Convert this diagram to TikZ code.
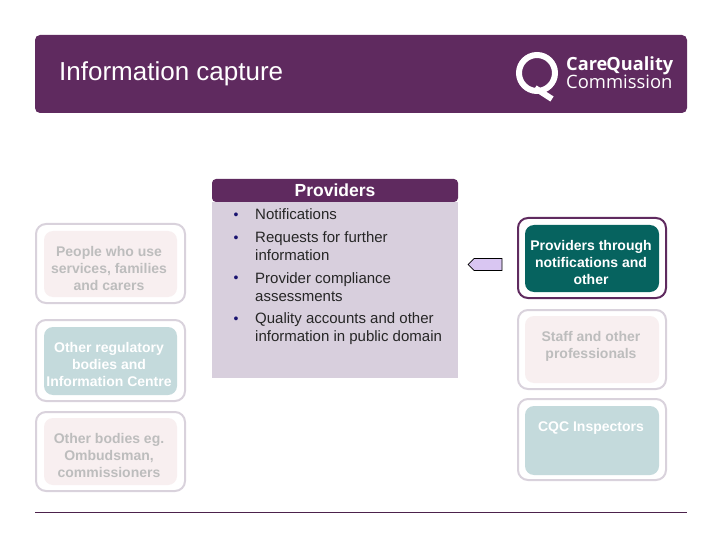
\documentclass[tikz,border=0pt]{standalone}
\usepackage{fontspec}
\setmainfont{Liberation Sans}
\newfontfamily\logofont{Open Sans}
\definecolor{plum}{HTML}{5F2A5F}
\definecolor{lilac}{HTML}{D8CFDD}
\definecolor{ringgrey}{HTML}{D9D2DC}
\definecolor{pinkfill}{HTML}{F8EFF0}
\definecolor{tealpale}{HTML}{C4DADC}
\definecolor{tealdark}{HTML}{06635F}
\definecolor{greytext}{HTML}{BDBDBD}
\definecolor{arrowfill}{HTML}{D9C6F2}
\definecolor{bulletblue}{HTML}{1A1470}
\tikzset{
  x=1pt,y=-1pt,
  outerbox/.style={draw=ringgrey,line width=2pt,rounded corners=10pt,fill=white},
  outeron/.style={draw=plum,line width=2pt,rounded corners=10pt,fill=white},
  innerbox/.style={rounded corners=9pt},
  boxlabel/.style={font=\bfseries\fontsize{14}{17}\selectfont,align=center,inner sep=0pt},
  listlabel/.style={font=\fontsize{15}{18}\selectfont,align=left,anchor=base west,inner sep=0pt,text=black!85},
  bulletmark/.style={font=\fontsize{14}{18}\selectfont,anchor=base,inner sep=0pt,text=bulletblue},
}
\begin{document}
\begin{tikzpicture}
\useasboundingbox (0,0) rectangle (720,540);
% banner
\fill[plum,rounded corners=5pt] (35,35) rectangle (687,113);
\node[anchor=base west,inner sep=0pt,text=white,font=\fontsize{26}{30}\selectfont] (title) at (59,81) {Information capture};
% logo
\draw[white,line width=6pt] (537,73) circle (18);
\draw[white,line width=6pt] (535,88) -- (552,99);
\node[anchor=base west,inner sep=0pt,text=white,font=\logofont\bfseries\fontsize{18.2}{20}\selectfont] (logoa) at (566,71) {Care\kern-1pt Quality};
\node[anchor=base west,inner sep=0pt,text=white,font=\logofont\fontsize{18.4}{20}\selectfont] (logob) at (566,89) {Commission};
% central panel
\fill[lilac] (212,202) rectangle (458,378);
\fill[plum,rounded corners=4pt] (212,202) -- (212,179) -- (458,179) -- (458,202) -- cycle;
\node[text=white,inner sep=0pt,font=\bfseries\fontsize{17.5}{20}\selectfont] (provhead) at (335,190.5) {Providers};
\foreach \yy in {219,242,282,323} \node[bulletmark] at (236,\yy) {•};
\node[listlabel] (l1) at (255,219) {Notifications};
\node[listlabel] (l2) at (255,260) {Requests for further\\[0pt]information};
\node[listlabel] (l3) at (255,301) {Provider compliance\\[0pt]assessments};
\node[listlabel] (l4) at (255,341) {Quality accounts and other\\[0pt]information in public domain};
% arrow
\draw[black,line width=.7pt,fill=arrowfill] (502,258.5) -- (474,258.5) -- (468,264.5) -- (474,270.5) -- (502,270.5) -- cycle;
% left boxes
\draw[outerbox] (36,224) rectangle (185,303);
\fill[pinkfill,innerbox] (44,231) rectangle (177,297);
\node[boxlabel,text=greytext] (people) at (109,268) {People who use\\services, families\\and carers};
\draw[outerbox] (36,320) rectangle (185,401);
\fill[tealpale,innerbox] (44,327) rectangle (177,395);
\node[boxlabel,text=white] (regul) at (109,364) {Other regulatory\\bodies and\\Information Centre};
\draw[outerbox] (36,412) rectangle (185,491);
\fill[pinkfill,innerbox] (44,418) rectangle (177,485);
\node[boxlabel,text=greytext] (bodies) at (109,455) {Other bodies eg.\\Ombudsman,\\commissioners};
% right boxes
\draw[outeron] (518,218) rectangle (666,298);
\fill[tealdark,innerbox] (525,225) rectangle (659,292);
\node[boxlabel,text=white] (prov) at (591,262) {Providers through\\notifications and\\other};
\draw[outerbox] (518,310) rectangle (666,389);
\fill[pinkfill,innerbox] (525,316) rectangle (659,383);
\node[boxlabel,text=greytext] (staff) at (591,346) {Staff and other\\professionals};
\draw[outerbox] (518,399) rectangle (666,480);
\fill[tealpale,innerbox] (525,406) rectangle (659,475);
\node[boxlabel,text=white] (cqc) at (591,428.5) {CQC Inspectors};
% rule
\draw[plum!80!black,line width=.8pt] (35,512.5) -- (687,512.5);
\end{tikzpicture}
\end{document}
